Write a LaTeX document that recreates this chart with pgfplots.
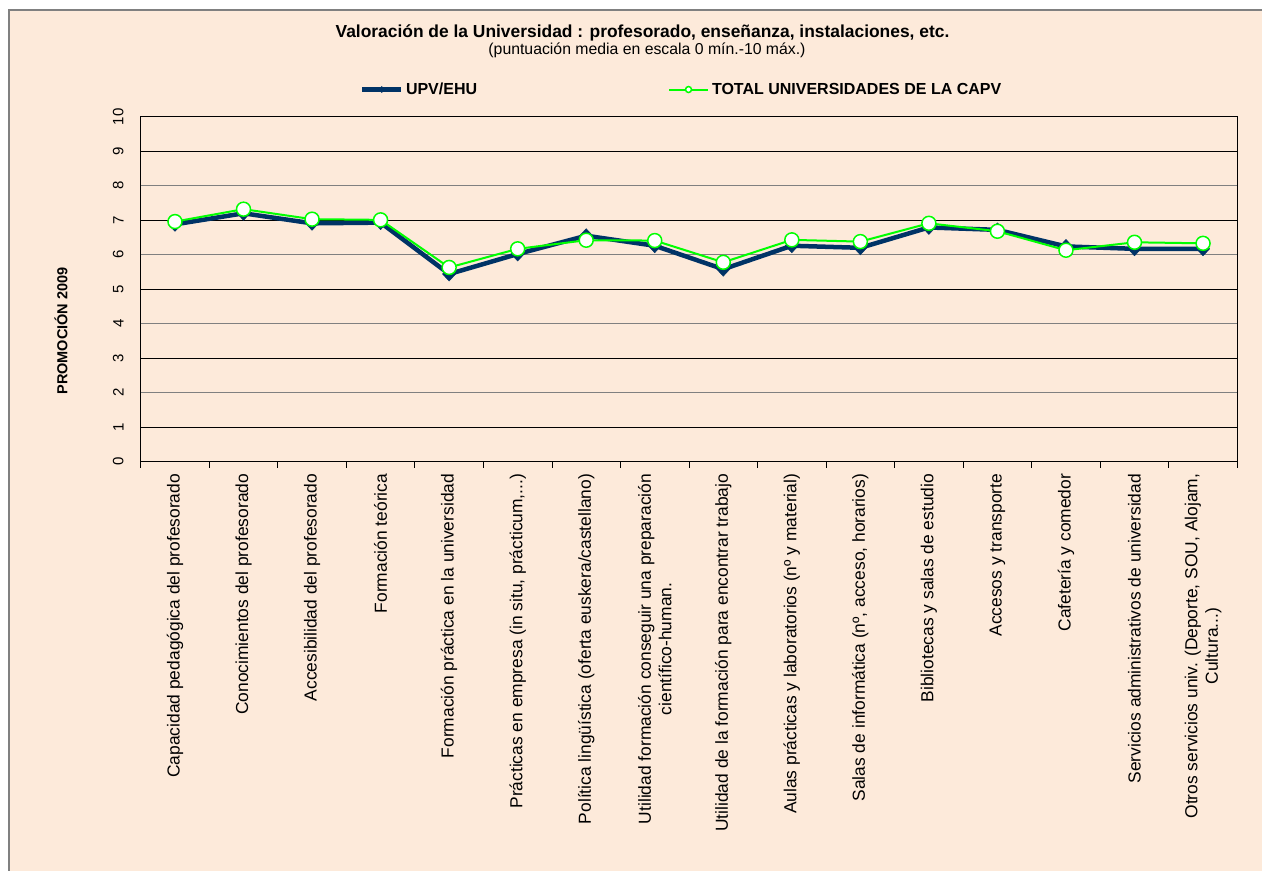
\documentclass[border=0pt]{standalone}
\usepackage{fontspec}
\setmainfont{Liberation Sans}
\usepackage{pgfplots}
\pgfplotsset{compat=1.18}
\definecolor{peach}{RGB}{253,234,218}
\definecolor{navy}{RGB}{0,51,102}
\definecolor{lgreen}{RGB}{0,255,0}
\definecolor{framegray}{RGB}{128,128,128}
\begin{document}
\begin{tikzpicture}[x=1bp,y=1bp]
\fill[white] (0,0) rectangle (1262,-871);
\fill[peach] (9,-10) rectangle (1262,-871);
\draw[framegray, line width=1.5bp] (9,-871) -- (9,-10) -- (1262,-10);
\node[font=\bfseries\fontsize{17.4bp}{20bp}\selectfont] at (642.5,-33) {Valoración de la Universidad : profesorado, enseñanza, instalaciones, etc.};
\node[font=\fontsize{15.8bp}{18bp}\selectfont] at (647,-50) {(puntuación media en escala 0 mín.-10 máx.)};
\node[font=\bfseries\fontsize{14.5bp}{16bp}\selectfont, rotate=90] at (61,-331) {PROMOCIÓN 2009};
\begin{axis}[
  at={(140.7bp,-461.7bp)}, anchor=south west,
  scale only axis, width=1096.6bp, height=345bp,
  xmin=-0.5, xmax=15.5, ymin=0, ymax=10,
  axis line style={black, line width=1bp},
  /pgf/number format/assume math mode=true,
  xtick pos=bottom, ytick pos=left,
  xtick={0,...,15},
  xticklabels={
    {Capacidad pedagógica del profesorado},
    {Conocimientos del profesorado},
    {Accesibilidad del profesorado},
    {Formación teórica},
    {Formación práctica en la universidad},
    {Prácticas en empresa (in situ, prácticum,.{}.{}.)},
    {Política lingüística (oferta euskera/castellano)},
    {Utilidad formación conseguir una preparación\\científico-human.},
    {Utilidad de la formación para encontrar trabajo},
    {Aulas prácticas y laboratorios (nº y material)},
    {Salas de informática (nº, acceso, horarios)},
    {Bibliotecas y salas de estudio},
    {Accesos y transporte},
    {Cafetería y comedor},
    {Servicios administrativos de universidad},
    {Otros servicios univ. (Deporte, SOU, Alojam,\\Cultura.{}.{}.)}},
  major tick length=0pt,
  xticklabel style={rotate=90, anchor=east, align=center, inner xsep=12bp,
    font=\fontsize{17.4bp}{20.5bp}\selectfont},
  ytick={0,...,10},
  yticklabel style={rotate=90, anchor=south, inner ysep=17bp, inner xsep=0pt,
    font=\fontsize{15bp}{17bp}\selectfont},
  ymajorgrids, major grid style={black, line width=0.8bp},
  extra y ticks={2,4,6,8}, extra y tick labels={},
  extra y tick style={grid=major, major grid style={framegray, line width=1.3bp}, major tick length=0pt},
  extra x ticks={-0.5,0.5,...,15.5}, extra x tick labels={},
  extra x tick style={major tick length=6bp, tick align=outside, xtick pos=bottom, tick style={black, line width=0.8bp}},
  legend columns=2,
  legend image code/.code={\draw[mark repeat=2, mark phase=2, #1, mark size=3bp] plot coordinates {(0bp,0bp) (19.5bp,0bp) (39bp,0bp)};},
  legend style={at={(0.2,1.0788)}, anchor=west, draw=none, fill=none, inner sep=0pt, outer sep=0pt,
    column sep=0pt, nodes={inner sep=0pt, font=\bfseries\fontsize{16bp}{18bp}\selectfont}},
]
\addplot[navy, line width=4.5bp, mark=diamond*, mark size=7bp,
  mark options={solid, fill=navy, draw=navy, line width=0.5bp, xscale=1.25}] coordinates {
  (0,6.88) (1,7.20) (2,6.91) (3,6.93) (4,5.44) (5,6.02) (6,6.55) (7,6.26)
  (8,5.58) (9,6.26) (10,6.20) (11,6.79) (12,6.72) (13,6.24) (14,6.17) (15,6.17)};
\addlegendentry{\hspace{2.5bp}\makebox[262bp][l]{UPV/EHU}}
\addplot[lgreen, line width=2bp, mark=*, mark size=7bp,
  mark options={solid, fill=white, draw=lgreen, line width=1.5bp}] coordinates {
  (0,6.96) (1,7.32) (2,7.03) (3,7.01) (4,5.63) (5,6.17) (6,6.42) (7,6.41)
  (8,5.78) (9,6.43) (10,6.38) (11,6.91) (12,6.68) (13,6.13) (14,6.36) (15,6.33)};
\addlegendentry{\hspace{3bp}TOTAL UNIVERSIDADES DE LA CAPV}
\end{axis}
\pgfresetboundingbox
\useasboundingbox (0,0) rectangle (1262,-871);
\end{tikzpicture}
\end{document}
